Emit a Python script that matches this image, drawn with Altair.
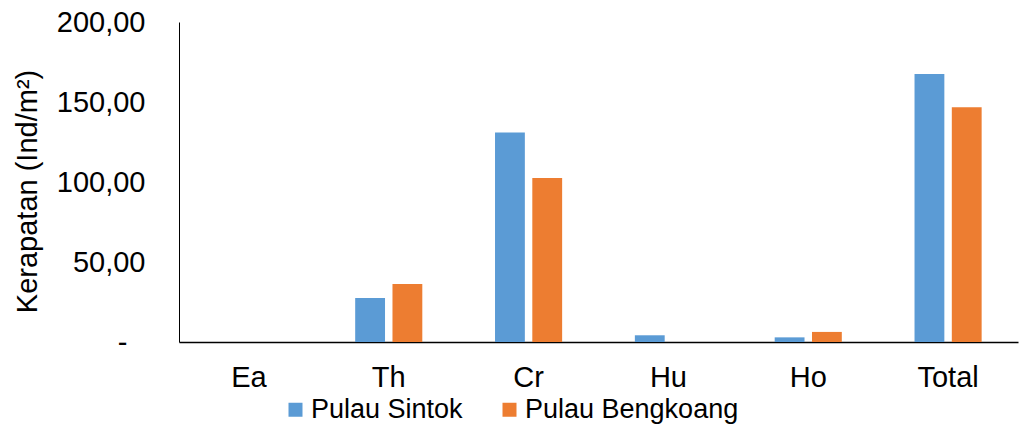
import altair as alt
import pandas as pd

categories = ["Ea", "Th", "Cr", "Hu", "Ho", "Total"]
sintok = [0.0, 27.5, 131.0, 4.2, 2.9, 167.5]
bengkoang = [0.0, 36.3, 102.5, 0.0, 6.3, 146.7]
series = ["Pulau Sintok", "Pulau Bengkoang"]
colors = ["#5B9BD5", "#ED7D31"]

rows = []
for c, s, b in zip(categories, sintok, bengkoang):
    rows.append({"cat": c, "series": series[0], "value": s})
    rows.append({"cat": c, "series": series[1], "value": b})
df = pd.DataFrame(rows)

FONT = "Liberation Sans"
FS = 29

chart = alt.Chart(df).mark_bar().encode(
    x=alt.X("cat:N", sort=categories,
            scale=alt.Scale(paddingInner=0.52, paddingOuter=0.26),
            axis=alt.Axis(title=None, labelAngle=0, ticks=False, domain=True,
                          domainColor="#000000", domainWidth=1.5,
                          labelFontSize=FS, labelFont=FONT, labelColor="#000000",
                          labelPadding=21)),
    xOffset=alt.XOffset("series:N", sort=series,
                        scale=alt.Scale(paddingInner=0.2)),
    y=alt.Y("value:Q", scale=alt.Scale(domain=[0, 200]),
            axis=alt.Axis(title="Kerapatan (Ind/m²)", values=[0, 50, 100, 150, 200],
                          grid=False, ticks=False, domain=True,
                          domainColor="#000000", domainWidth=1,
                          labelExpr="datum.value == 0 ? '-' : replace(format(datum.value, '.2f'), '.', ',')",
                          labelFontSize=FS, labelFont=FONT, labelColor="#000000",
                          labelPadding={"condition": {"test": "datum.value == 0", "value": 52}, "value": 34},
                          titleFontSize=FS, titleFont=FONT, titleColor="#000000",
                          titleFontWeight="normal", titlePadding=14, titleY=169)),
    color=alt.Color("series:N", sort=series,
                    scale=alt.Scale(domain=series, range=colors),
                    legend=alt.Legend(title=None, orient="none", direction="horizontal",
                                      legendX=103, legendY=374,
                                      symbolType="square", symbolSize=196,
                                      symbolStrokeWidth=0, labelLimit=0,
                                      labelFontSize=27, labelFont=FONT, labelColor="#000000",
                                      labelOffset=2, columnPadding=33)),
).properties(
    width=839, height=320,
    padding={"left": 179, "top": 22, "right": 4, "bottom": 85},
    autosize=alt.AutoSizeParams(type="none"),
).configure_view(stroke=None)

chart.save("out.html", embed_options={"renderer": "svg", "actions": False})
